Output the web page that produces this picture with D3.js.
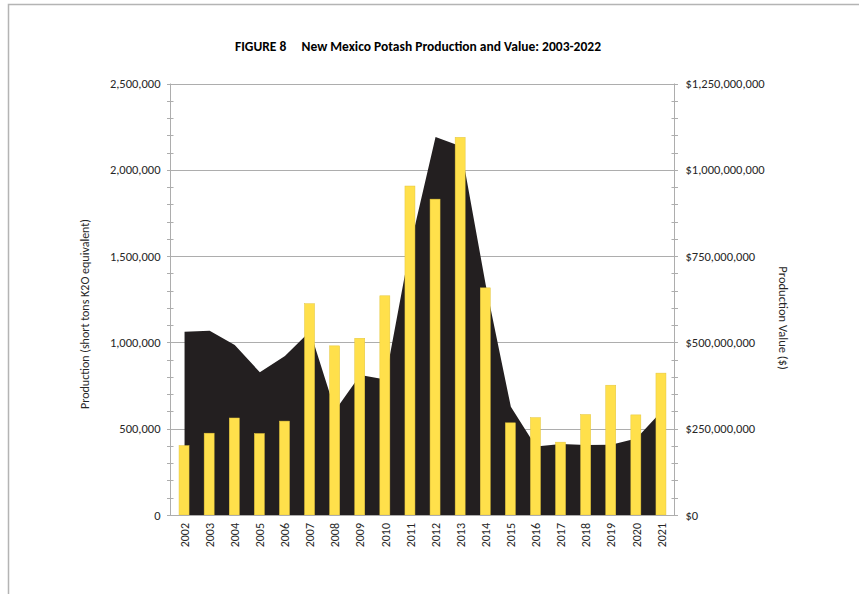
<!DOCTYPE html>
<html>
<head>
<meta charset="utf-8">
<script src="https://cdn.jsdelivr.net/npm/d3@7"></script>
<style>
  html, body { margin: 0; padding: 0; background: #fff; }
  svg { display: block; }
  text { font-family: Carlito, Calibri, Lato, "Liberation Sans", sans-serif; }
</style>
</head>
<body>
<svg id="chart" width="859" height="594"></svg>
<script>
// Years on the category axis
const years = ["2002","2003","2004","2005","2006","2007","2008","2009","2010","2011",
               "2012","2013","2014","2015","2016","2017","2018","2019","2020","2021"];

// Potash production, short tons K2O equivalent (dark area, left axis)
const production = [1062000, 1068000, 985000, 827000, 921000, 1065000, 605000, 811000, 785000, 1563000,
                    2190000, 2137000, 1332000, 627000, 397000, 412000, 405000, 407000, 443000, 600000];

// Production value in dollars (yellow columns, right axis)
const productionValue = [201e6, 237e6, 281e6, 236e6, 272e6, 612e6, 490e6, 512e6, 635e6, 953e6,
                         915e6, 1094e6, 658e6, 267e6, 282e6, 211e6, 291e6, 376e6, 290e6, 411e6];

// Axis tick values
const leftTicks = [0, 500000, 1000000, 1500000, 2000000, 2500000];
const leftMinor = d3.range(0, 2500001, 100000);
const rightTicks = [0, 250e6, 500e6, 750e6, 1000e6, 1250e6];
const rightMinor = d3.range(0, 1250e6 + 1, 50e6);

const titleText = "FIGURE 8     New Mexico Potash Production and Value: 2003-2022";
const leftTitle = "Production (short tons K2O equivalent)";
const rightTitle = "Production Value ($)";

const svg = d3.select("#chart");
const plot = { left: 172, right: 674, top: 83.5, bottom: 515 };

const x = d3.scaleBand().domain(years).range([plot.left, plot.right]).padding(0);
const yL = d3.scaleLinear().domain([0, 2500000]).range([plot.bottom, plot.top]);
const yR = d3.scaleLinear().domain([0, 1250e6]).range([plot.bottom, plot.top]);

const cx = d => x(d) + x.bandwidth() / 2;
const gridColor = "#ADADAD";
const textColor = "#262626";
const tickFont = "12.5px";

// outer chart frame (top and left edges)
svg.append("path")
  .attr("d", "M8.5,594 L8.5,4.5 L859,4.5")
  .attr("fill", "none").attr("stroke", "#B4B4B4").attr("stroke-width", 1.5);

// horizontal gridlines
svg.append("g").selectAll("line").data(leftTicks.slice(1)).join("line")
  .attr("x1", plot.left).attr("x2", plot.right)
  .attr("y1", d => Math.round(yL(d)) + 0.5).attr("y2", d => Math.round(yL(d)) + 0.5)
  .attr("stroke", gridColor).attr("stroke-width", 1);

// production area
const area = d3.area()
  .x((d, i) => cx(years[i]))
  .y0(yL(0))
  .y1(d => yL(d));
svg.append("path").datum(production)
  .attr("d", area)
  .attr("fill", "#231F20");

// value columns
const barW = 10;
svg.append("g").selectAll("rect").data(productionValue).join("rect")
  .attr("x", (d, i) => cx(years[i]) - barW / 2 - 0.5)
  .attr("width", barW)
  .attr("y", d => yR(d))
  .attr("height", d => yR(0) - yR(d))
  .attr("fill", "#FFE04B")
  .attr("stroke", "#E3C53C").attr("stroke-width", 0.5);

// left axis
const gL = svg.append("g").attr("transform", `translate(${plot.left - 1.5},0)`);
gL.call(d3.axisLeft(yL).tickValues(leftTicks).tickFormat(d3.format(",")).tickSize(0).tickPadding(10));
gL.select(".domain").remove();
gL.append("line").attr("y1", plot.top).attr("y2", plot.bottom).attr("stroke", gridColor);
gL.selectAll(".minor").data(leftMinor).join("line").attr("class", "minor")
  .attr("x1", -3.5).attr("x2", 3)
  .attr("y1", d => Math.round(yL(d)) + 0.5).attr("y2", d => Math.round(yL(d)) + 0.5)
  .attr("stroke", gridColor);
gL.selectAll(".tick text").attr("fill", textColor).style("font-size", tickFont)
  .style("font-family", "Carlito, Calibri, Lato, 'Liberation Sans', sans-serif");

// right axis
const gR = svg.append("g").attr("transform", `translate(${plot.right + 0.5},0)`);
gR.call(d3.axisRight(yR).tickValues(rightTicks).tickFormat(d3.format("$,")).tickSize(0).tickPadding(11));
gR.select(".domain").remove();
gR.append("line").attr("y1", plot.top).attr("y2", plot.bottom).attr("stroke", gridColor);
gR.selectAll(".minor").data(rightMinor).join("line").attr("class", "minor")
  .attr("x1", -3).attr("x2", 3.5)
  .attr("y1", d => Math.round(yR(d)) + 0.5).attr("y2", d => Math.round(yR(d)) + 0.5)
  .attr("stroke", gridColor);
gR.selectAll(".tick text").attr("fill", textColor).style("font-size", tickFont)
  .style("font-family", "Carlito, Calibri, Lato, 'Liberation Sans', sans-serif");

// bottom axis
svg.append("line")
  .attr("x1", plot.left - 4).attr("x2", plot.right + 3)
  .attr("y1", plot.bottom + 0.5).attr("y2", plot.bottom + 0.5)
  .attr("stroke", gridColor);
const gB = svg.append("g").attr("transform", `translate(0,${plot.bottom})`);
gB.call(d3.axisBottom(x).tickSize(0).tickPadding(8));
gB.select(".domain").remove();
gB.selectAll(".tick text")
  .attr("fill", textColor).style("font-size", "12px")
  .style("font-family", "Carlito, Calibri, Lato, 'Liberation Sans', sans-serif")
  .attr("transform", "rotate(-90)")
  .attr("text-anchor", "end")
  .attr("x", -8).attr("y", 0).attr("dy", "0.35em");

// title
svg.append("text")
  .attr("x", 418).attr("y", 51)
  .attr("text-anchor", "middle")
  .attr("fill", "#000").style("font-weight", "bold").style("font-size", "13.5px")
  .style("white-space", "pre").attr("xml:space", "preserve")
  .text(titleText);

// axis titles
svg.append("text")
  .attr("transform", "translate(89,314) rotate(-90)")
  .attr("text-anchor", "middle").attr("fill", textColor).style("font-size", "12px")
  .text(leftTitle);
svg.append("text")
  .attr("transform", "translate(779,318) rotate(90)")
  .attr("text-anchor", "middle").attr("fill", textColor).style("font-size", "12.5px")
  .text(rightTitle);
</script>
</body>
</html>
